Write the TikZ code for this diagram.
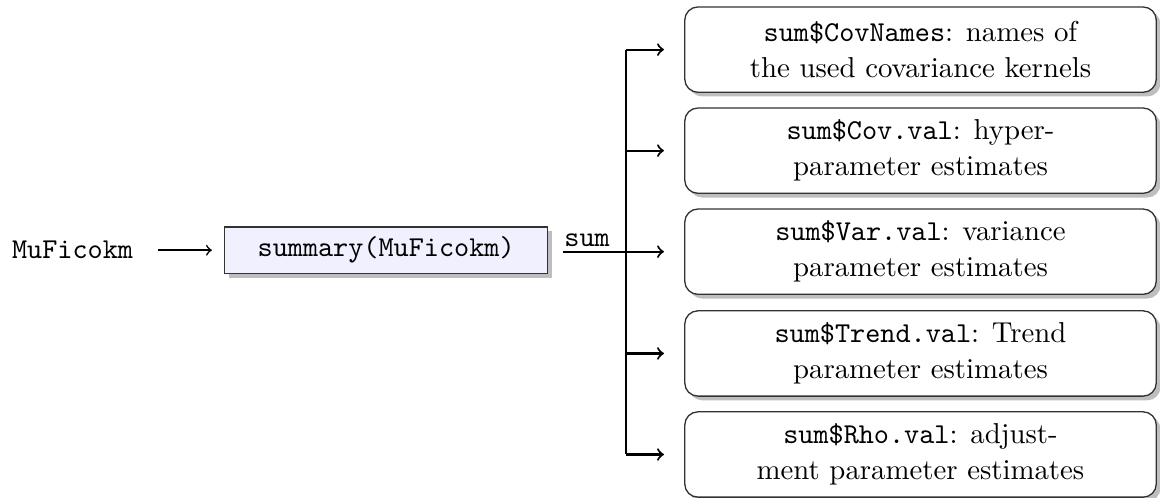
\documentclass[tikz,border=0pt,11pt]{standalone}
\usepackage{xcolor}
\usepackage{tikz}
\usetikzlibrary{arrows.meta, positioning, calc, shadows}
\definecolor{mygray}{RGB}{50,50,50}
\definecolor{hdrlav}{RGB}{240,240,255}
\definecolor{shadowgray}{RGB}{190,190,190}
\tikzset{
  callbox/.style={rectangle, draw=mygray, fill=hdrlav, minimum width=4.32cm,
    minimum height=0.62cm, font=\ttfamily, line width=0.5pt,
    drop shadow={shadow xshift=1.6pt, shadow yshift=-1.6pt, fill=shadowgray, opacity=1}},
  outbox/.style={rectangle, draw=mygray, fill=white, align=center,
    minimum width=6.3cm, minimum height=1.14cm, rounded corners=5pt, line width=0.5pt,
    drop shadow={shadow xshift=1.6pt, shadow yshift=-1.6pt, fill=shadowgray, opacity=1}},
  arrow/.style={-to, thick, color=black},
  line/.style={thick, color=black}
}

\begin{document}
\begin{tikzpicture}
  \useasboundingbox (0,0) rectangle (15.5,6.653);
  % input object and summary call
  \node[font=\ttfamily] (mu) at (0.97, 3.31) {MuFicokm};
  \node[callbox] (summ) at (5.16, 3.31) {summary(MuFicokm)};

  % output fields
  \node[outbox] (cov) at (12.30, 5.99) {\texttt{sum\$CovNames}: names of\\the used covariance kernels};
  \node[outbox] (hyp) at (12.30, 4.64) {\texttt{sum\$Cov.val}: hyper-\\parameter estimates};
  \node[outbox] (var) at (12.30, 3.29) {\texttt{sum\$Var.val}: variance\\parameter estimates};
  \node[outbox] (trd) at (12.30, 1.93) {\texttt{sum\$Trend.val}: Trend\\parameter estimates};
  \node[outbox] (rho) at (12.30, 0.58) {\texttt{sum\$Rho.val}: adjust-\\ment parameter estimates};

  % branching point
  \coordinate (bus) at (8.36, 3.29);

  % Connections
  \draw[-to, line width=0.6pt, shorten <=0.2cm, shorten >=0.16cm] (mu) -- (summ);
  \draw[line, shorten <=0.2cm] (summ.east |- bus) -- node[above, pos=0.5, font=\ttfamily, inner sep=1.5pt] {sum} (bus);
  \draw[line] (bus |- cov) -- (bus |- rho);
  \foreach \n in {cov, hyp, var, trd, rho}
    \draw[arrow, shorten >=0.27cm] (bus |- \n) -- (\n.west);
\end{tikzpicture}
\end{document}
